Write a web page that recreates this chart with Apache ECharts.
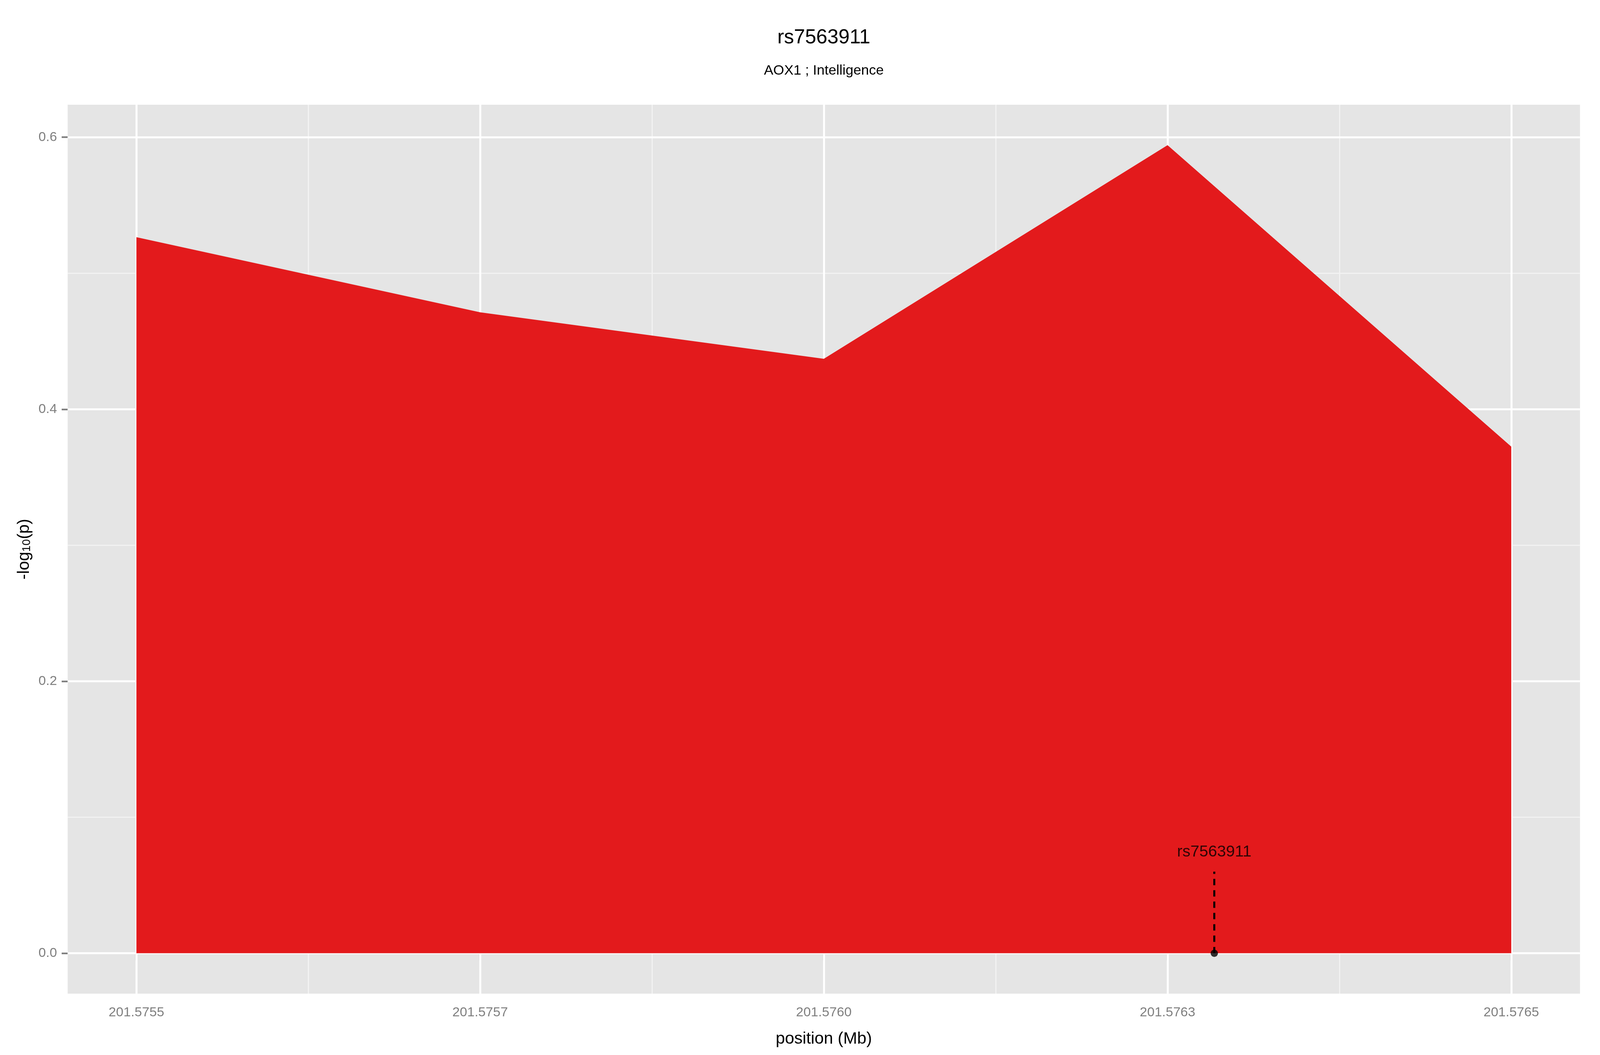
<!DOCTYPE html>
<html>
<head>
<meta charset="utf-8">
<script src="https://cdn.jsdelivr.net/npm/echarts@6/dist/echarts.min.js"></script>
<style>
html,body{margin:0;padding:0;background:#fff;overflow:hidden;width:100%;height:100%;}
#chart{position:absolute;left:0;top:0;width:100vw;height:100vh;}
</style>
</head>
<body>
<div id="chart"></div>
<script>
// ---- data ----
var positions = [201.5755, 201.57575, 201.576, 201.57625, 201.5765];
var logP = [0.5265, 0.4713, 0.4371, 0.5942, 0.3725];
var snpName = 'rs7563911';
var snpPos = 201.576284;
var snpLineTop = 0.06;
var snpLabelY = 0.0745;
var xTickValues = [201.5755, 201.57575, 201.576, 201.57625, 201.5765];
var xTickLabels = ['201.5755', '201.5757', '201.5760', '201.5763', '201.5765'];
var xMinorValues = [201.575625, 201.575875, 201.576125, 201.576375];
var yTickValues = [0, 0.2, 0.4, 0.6];
var yTickLabels = ['0.0', '0.2', '0.4', '0.6'];
var yMinorValues = [0.1, 0.3, 0.5];
var titleText = 'rs7563911';
var subtitleText = 'AOX1 ; Intelligence';

// ---- scales (ggplot-like 5% expansion) ----
var xSpan = positions[positions.length - 1] - positions[0];
var xMin = positions[0] - 0.05 * xSpan;
var xMax = positions[positions.length - 1] + 0.05 * xSpan;
var yTop = Math.max.apply(null, logP);
var yMin = 0 - 0.05 * yTop;
var yMax = yTop + 0.05 * yTop;

function nearestLabel(v, vals, labels) {
  var best = 0, d = Infinity;
  for (var i = 0; i < vals.length; i++) {
    var dd = Math.abs(vals[i] - v);
    if (dd < d) { d = dd; best = i; }
  }
  return labels[best];
}

var FONT = 'Liberation Sans, Arial, Helvetica, sans-serif';
var GREY = '#7F7F7F';

var el = document.getElementById('chart');
var chart = echarts.init(el, null, {renderer: 'canvas'});
var W = chart.getWidth(), H = chart.getHeight();
var sx = W / 4800, sy = H / 2700, sf = Math.min(sx, sy);
function px(v) { return v * sx; }
function py(v) { return v * sy; }
function pf(v) { return v * sf; }

var gridLeft = px(203), gridRight = px(60), gridTop = py(268), gridBottom = py(157);
var panelCenterX = gridLeft + (W - gridLeft - gridRight) / 2;

function vLine(v, color, width) {
  return [{coord: [v, yMin], lineStyle: {color: color, width: width, type: 'solid'}}, {coord: [v, yMax]}];
}
function hLine(v, color, width) {
  return [{coord: [xMin, v], lineStyle: {color: color, width: width, type: 'solid'}}, {coord: [xMax, v]}];
}
var gridLineData = [];
xMinorValues.forEach(function (v) { gridLineData.push(vLine(v, '#F2F2F2', pf(3.5))); });
yMinorValues.forEach(function (v) { gridLineData.push(hLine(v, '#F2F2F2', pf(3.5))); });
xTickValues.forEach(function (v) { gridLineData.push(vLine(v, '#FFFFFF', pf(6))); });
yTickValues.forEach(function (v) { gridLineData.push(hLine(v, '#FFFFFF', pf(6))); });

var option = {
  backgroundColor: '#FFFFFF',
  animation: false,
  textStyle: {fontFamily: FONT},
  graphic: [
    {type: 'text', x: panelCenterX, y: py(97), style: {text: titleText, font: pf(60) + 'px ' + FONT, fill: '#000', textAlign: 'center', textVerticalAlign: 'middle'}},
    {type: 'text', x: panelCenterX, y: py(181), style: {text: subtitleText, font: pf(42) + 'px ' + FONT, fill: '#000', textAlign: 'center', textVerticalAlign: 'middle'}}
  ],
  grid: {
    left: gridLeft, right: gridRight, top: gridTop, bottom: gridBottom,
    show: true, backgroundColor: '#E5E5E5', borderWidth: 0
  },
  xAxis: {
    type: 'value', min: xMin, max: xMax,
    name: 'position (Mb)', nameLocation: 'middle', nameGap: py(95),
    nameTextStyle: {fontSize: pf(50), color: '#000', fontFamily: FONT},
    axisLine: {show: false},
    splitLine: {show: false},
    axisTick: {show: true, length: py(18), customValues: xTickValues, lineStyle: {color: GREY, width: pf(5)}},
    axisLabel: {
      show: true, margin: py(32), fontSize: pf(40), color: GREY, fontFamily: FONT,
      customValues: xTickValues,
      formatter: function (v) { return nearestLabel(v, xTickValues, xTickLabels); }
    }
  },
  yAxis: {
    type: 'value', min: yMin, max: yMax,
    name: '-log{sub|10}(p)', nameLocation: 'middle', nameGap: px(105), nameRotate: 90,
    nameTextStyle: {
      fontSize: pf(50), color: '#000', fontFamily: FONT,
      rich: {sub: {fontSize: pf(34), color: '#000', fontFamily: FONT, verticalAlign: 'bottom', lineHeight: pf(50)}}
    },
    axisLine: {show: false},
    splitLine: {show: false},
    axisTick: {show: true, length: px(18), customValues: yTickValues, lineStyle: {color: GREY, width: pf(5)}},
    axisLabel: {
      show: true, margin: px(32), fontSize: pf(40), color: GREY, fontFamily: FONT,
      customValues: yTickValues,
      formatter: function (v) { return nearestLabel(v, yTickValues, yTickLabels); }
    }
  },
  series: [
    {
      name: 'gridlines', type: 'line', data: [], z: 1, zlevel: 0, silent: true,
      markLine: {z: 1, silent: true, symbol: ['none', 'none'], label: {show: false}, animation: false, data: gridLineData}
    },
    {
      name: 'assoc', type: 'line', z: 3,
      data: positions.map(function (p, i) { return [p, logP[i]]; }),
      showSymbol: false, symbol: 'none',
      lineStyle: {width: 0, color: '#E31A1C'},
      itemStyle: {color: '#E31A1C'},
      areaStyle: {color: '#E31A1C', opacity: 1, origin: 0}
    },
    {
      name: 'snpLine', type: 'line', z: 4,
      data: [[snpPos, 0], [snpPos, snpLineTop]],
      showSymbol: false, symbol: 'none',
      lineStyle: {color: '#000', width: pf(6), type: [pf(19), pf(15)], dashOffset: 0, cap: 'butt'}
    },
    {
      name: 'snpPoint', type: 'scatter', z: 5,
      data: [[snpPos, 0]],
      symbol: 'circle', symbolSize: pf(22),
      itemStyle: {color: '#000'}
    },
    {
      name: 'snpLabel', type: 'scatter', z: 6,
      data: [{value: [snpPos, snpLabelY], name: snpName}],
      symbolSize: 0,
      label: {show: true, position: 'inside', formatter: '{b}', fontSize: pf(48), color: '#000', fontFamily: FONT}
    }
  ]
};

chart.setOption(option);
window.addEventListener('resize', function () { chart.resize(); });
</script>
</body>
</html>
